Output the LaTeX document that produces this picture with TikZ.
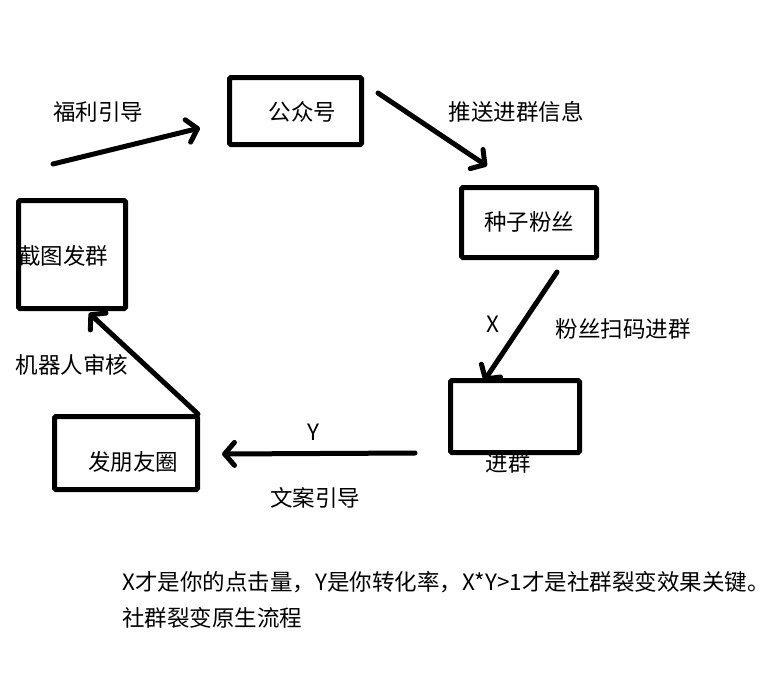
\documentclass[tikz,border=0pt]{standalone}
\usepackage{fontspec}
\setmainfont{Noto Sans CJK SC}
\usetikzlibrary{arrows.meta}
\begin{document}
\begin{tikzpicture}[x=1pt,y=-1pt,
  box/.style={draw=black,line width=5pt,rounded corners=1.5pt,inner sep=0pt},
  lbl/.style={inner sep=0pt,font=\fontsize{22.5}{27}\selectfont},
  arr/.style={line width=5pt,line cap=round,-{Straight Barb[length=10pt,width=23pt,line width=5pt,round]}}]
\fill[white] (0,0) rectangle (784,683);
\useasboundingbox (0,0) rectangle (784,683);
% boxes
\node[box,minimum width=132pt,minimum height=67pt] (gzh) at (295.5,111) {};
\node[box,minimum width=135pt,minimum height=70pt] (zzfs) at (529,222.5) {};
\node[box,minimum width=107pt,minimum height=108pt] (jtfq) at (72,254.5) {};
\node[box,minimum width=143pt,minimum height=73pt] (fpyq) at (126,453) {};
\node[box,minimum width=129pt,minimum height=72pt] (jq) at (515,416.5) {};
% box texts
\node[lbl] (tgzh) at (302.5,112) {公众号};
\node[lbl] (tzzfs) at (529,222) {种子粉丝};
\node[lbl] (tjtfq) at (63,256) {截图发群};
\node[lbl] (tfpyq) at (133,462) {发朋友圈};
\node[lbl] (tjq) at (508,463) {进群};
% arrow ends
\coordinate (a1s) at (53,164); \coordinate (a1e) at (200,128);
\coordinate (a2s) at (378,93); \coordinate (a2e) at (487,166);
\coordinate (a3s) at (557,272); \coordinate (a3e) at (484,381);
\coordinate (a4s) at (415,453); \coordinate (a4e) at (222,454);
\coordinate (a5s) at (198,414); \coordinate (a5e) at (89,313);
\draw[arr] (a1s) -- (a1e);
\draw[arr] (a2s) -- (a2e);
\draw[arr] (a3s) -- (a3e);
\draw[arr] (a4s) -- (a4e);
\draw[arr] (a5s) -- (a5e);
% arrow labels
\node[lbl] (l1) at (98,112) {福利引导};
\node[lbl] (l2) at (516,112) {推送进群信息};
\node[lbl] (l3) at (493,324) {X};
\node[lbl] (l4) at (623,329) {粉丝扫码进群};
\node[lbl] (l5) at (72,365) {机器人审核};
\node[lbl] (l6) at (313,432) {Y};
\node[lbl] (l7) at (315,498) {文案引导};
% bottom text
\node[lbl,anchor=west] (n1) at (122,582) {X才是你的点击量，Y是你转化率，X*Y>1才是社群裂变效果关键。};
\node[lbl,anchor=west] (n2) at (122,618) {社群裂变原生流程};
\end{tikzpicture}
\end{document}
